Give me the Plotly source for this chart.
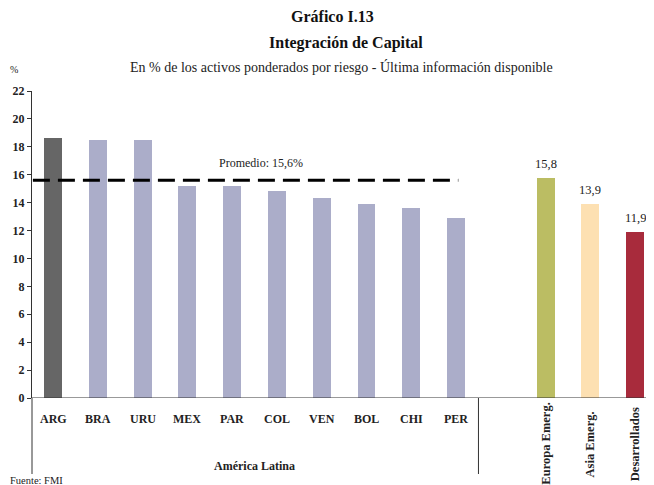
import plotly.graph_objects as go

# ---- data ----
latam_labels = ["ARG", "BRA", "URU", "MEX", "PAR", "COL", "VEN", "BOL", "CHI", "PER"]
latam_values = [18.6, 18.5, 18.5, 15.2, 15.2, 14.8, 14.3, 13.9, 13.6, 12.9]
other_labels = ["Europa Emerg.", "Asia Emerg.", "Desarrollados"]
other_values = [15.8, 13.9, 11.9]
promedio = 15.6
y_ticks = [0, 2, 4, 6, 8, 10, 12, 14, 16, 18, 20, 22]

# ---- styles ----
FONT = "Liberation Serif"
TXT = "#222222"
latam_colors = ["#666666"] + ["#ABADC9"] * (len(latam_labels) - 1)
other_colors = ["#BBBD63", "#FDE0B2", "#A82B3C"]

latam_x = list(range(len(latam_labels)))
other_x = [len(latam_labels) + 1 + i for i in range(len(other_labels))]

# page body has an 8px margin -> figure is 8px smaller each way
W, H = 646, 477
ML, MT, MB = 24, 83, 87
PLOT_W = W - ML
PLOT_H = H - MT - MB


def px_to_paper_x(px):  # reference-image pixel -> paper
    return (px - 8 - ML) / PLOT_W


def px_to_paper_y(py):
    return (H - MB - (py - 8)) / PLOT_H


fig = go.Figure()
fig.add_trace(go.Bar(x=latam_x, y=latam_values, marker_color=latam_colors,
                     marker_line_width=0, width=0.4, showlegend=False, hoverinfo="skip"))
fig.add_trace(go.Bar(x=other_x, y=other_values, marker_color=other_colors,
                     marker_line_width=0, width=0.4, showlegend=False, hoverinfo="skip"))
# average dashed line
fig.add_trace(go.Scatter(x=[-0.45, latam_x[-1] + 0.05], y=[promedio, promedio], mode="lines",
                         line=dict(color="black", width=3, dash="17px,8px"),
                         showlegend=False, hoverinfo="skip"))

annotations = []
annotations.append(dict(x=4.65, y=promedio, xref="x", yref="y", yshift=17,
                        text="Promedio: " + f"{promedio:.1f}".replace(".", ",") + "%",
                        showarrow=False, yanchor="middle",
                        font=dict(family=FONT, size=12, color=TXT)))
for xv, v in zip(other_x, other_values):
    annotations.append(dict(x=xv, y=v, xref="x", yref="y", yshift=14, yanchor="middle",
                            text=f"{v:.1f}".replace(".", ","), showarrow=False,
                            font=dict(family=FONT, size=12.5, color=TXT)))
for xv, lab in zip(latam_x, latam_labels):
    annotations.append(dict(x=xv, y=px_to_paper_y(419), xref="x", yref="paper",
                            text=f"<b>{lab}</b>", showarrow=False, yanchor="middle",
                            font=dict(family=FONT, size=12, color=TXT)))
for xv, lab in zip(other_x, other_labels):
    annotations.append(dict(x=xv, y=px_to_paper_y(444), xref="x", yref="paper",
                            text=f"<b>{lab}</b>", showarrow=False, yanchor="middle",
                            textangle=-90, font=dict(family=FONT, size=12.5, color=TXT)))
annotations.append(dict(x=4.5, y=px_to_paper_y(466), xref="x", yref="paper",
                        text="<b>América Latina</b>", showarrow=False, yanchor="middle",
                        font=dict(family=FONT, size=12, color=TXT)))
# titles and notes
annotations.append(dict(x=px_to_paper_x(332), y=px_to_paper_y(17), xref="paper", yref="paper",
                        text="<b>Gráfico I.13</b>", showarrow=False, xanchor="center",
                        yanchor="middle", font=dict(family=FONT, size=16, color="#111111")))
annotations.append(dict(x=px_to_paper_x(346), y=px_to_paper_y(43), xref="paper", yref="paper",
                        text="<b>Integración de Capital</b>", showarrow=False, xanchor="center",
                        yanchor="middle", font=dict(family=FONT, size=16, color="#111111")))
annotations.append(dict(x=px_to_paper_x(341), y=px_to_paper_y(67), xref="paper", yref="paper",
                        text="En % de los activos ponderados por riesgo - Última información disponible",
                        showarrow=False, xanchor="center", yanchor="middle",
                        font=dict(family=FONT, size=14, color=TXT)))
annotations.append(dict(x=px_to_paper_x(14), y=px_to_paper_y(70), xref="paper", yref="paper",
                        text="%", showarrow=False, xanchor="center", yanchor="middle",
                        font=dict(family=FONT, size=10, color=TXT)))
annotations.append(dict(x=px_to_paper_x(8), y=px_to_paper_y(480), xref="paper", yref="paper",
                        xanchor="left", yanchor="middle", text="Fuente: FMI", showarrow=False,
                        font=dict(family=FONT, size=10.5, color=TXT)))

fig.update_layout(
    width=W, height=H,
    margin=dict(l=ML, r=0, t=MT, b=MB, pad=0),
    paper_bgcolor="white", plot_bgcolor="white",
    bargap=0,
    xaxis=dict(range=[-0.47, 13.42], showticklabels=False, showgrid=False, zeroline=False,
               showline=False, ticks=""),
    yaxis=dict(range=[0, 22], tickvals=y_ticks, ticktext=[f"<b>{t}</b>" for t in y_ticks],
               showgrid=False, zeroline=False, showline=True, linecolor="#333333", linewidth=1,
               ticks="outside", ticklen=4, tickcolor="#333333",
               tickfont=dict(family=FONT, size=12, color=TXT)),
    annotations=annotations,
)

# zero line across the bottom
fig.add_shape(type="line", xref="paper", yref="y", x0=0, x1=1, y0=0, y1=0,
              line=dict(color="#333333", width=1))
# y axis extension below plot
fig.add_shape(type="line", xref="paper", yref="paper", x0=0, x1=0, y0=0,
              y1=px_to_paper_y(474), line=dict(color="#333333", width=1))
# group separator
fig.add_shape(type="line", xref="x", yref="paper", x0=9.5, x1=9.5, y0=0,
              y1=px_to_paper_y(474), line=dict(color="#333333", width=1))

fig.write_html("out.html")
